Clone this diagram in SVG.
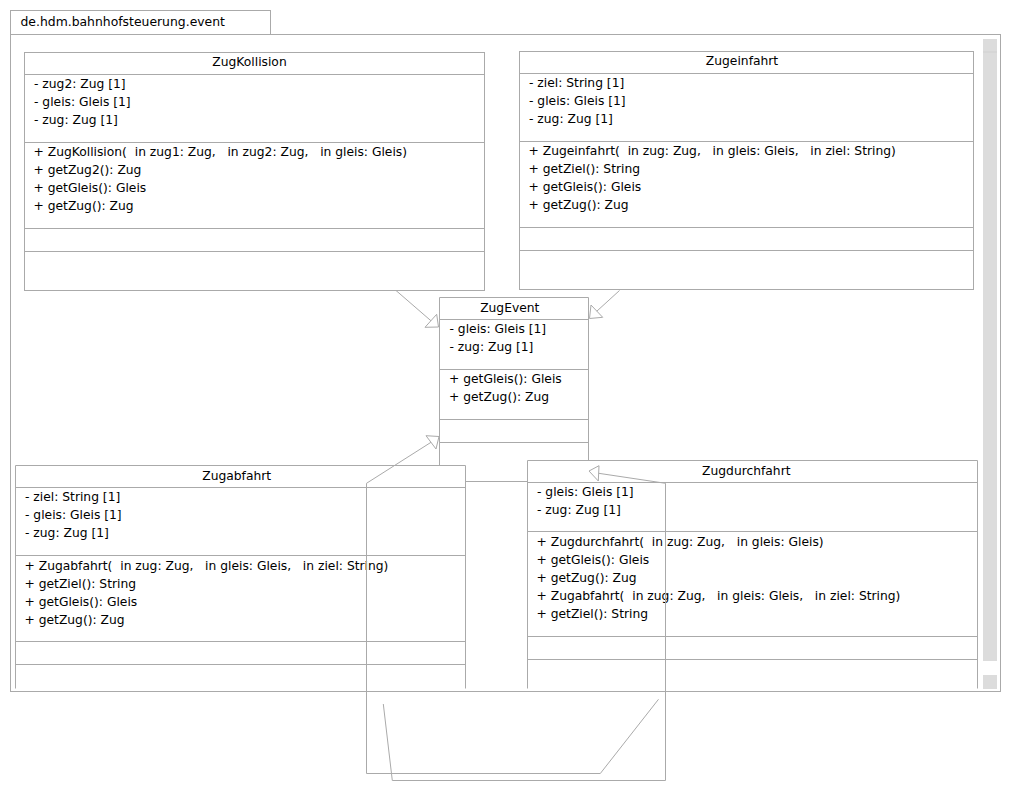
<svg xmlns="http://www.w3.org/2000/svg" width="1011" height="804" viewBox="0 0 1011 804">
<style>
.ln{fill:none;stroke:#aaaaaa;stroke-width:1}
.t{font-family:"DejaVu Sans","Liberation Sans",sans-serif;font-size:12.3px;fill:#000;white-space:pre}
.c{text-anchor:middle}
.sb{fill:#dcdcdc}
</style>
<rect x="0" y="0" width="1011" height="804" fill="#fff"/>
<g id="package">
<rect class="ln" x="10.5" y="10.5" width="260" height="24"/>
<rect class="ln" x="10.5" y="34.5" width="990" height="657"/>
<text class="t" x="20.5" y="26" style="font-size:12.4px">de.hdm.bahnhofsteuerung.event</text>
<rect class="sb" x="983" y="39" width="14" height="622"/>
<line x1="983" y1="52" x2="997" y2="52" stroke="#d0d0d0"/>
<rect class="sb" x="983" y="675" width="14" height="14"/>
</g>
<g id="ZugKollision">
<rect class="ln" x="24.5" y="52.5" width="460" height="238"/>
<path class="ln" d="M24.5 74.5H485M24.5 142.5H485M24.5 228.5H485M24.5 251.5H485"/>
<text class="t c" x="249.5" y="66">ZugKollision</text>
<text class="t" x="34" y="88">- zug2: Zug [1]</text>
<text class="t" x="34" y="106">- gleis: Gleis [1]</text>
<text class="t" x="34" y="124">- zug: Zug [1]</text>
<text class="t" x="33.5" y="156">+ ZugKollision(  in zug1: Zug,   in zug2: Zug,   in gleis: Gleis)</text>
<text class="t" x="33.5" y="174">+ getZug2(): Zug</text>
<text class="t" x="33.5" y="192">+ getGleis(): Gleis</text>
<text class="t" x="33.5" y="210">+ getZug(): Zug</text>
</g>
<g id="Zugeinfahrt">
<rect class="ln" x="519.5" y="51.5" width="454" height="238"/>
<path class="ln" d="M519.5 73.5H974M519.5 141.5H974M519.5 227.5H974M519.5 250.5H974"/>
<text class="t c" x="742" y="65">Zugeinfahrt</text>
<text class="t" x="529" y="87">- ziel: String [1]</text>
<text class="t" x="529" y="105">- gleis: Gleis [1]</text>
<text class="t" x="529" y="123">- zug: Zug [1]</text>
<text class="t" x="528.5" y="155">+ Zugeinfahrt(  in zug: Zug,   in gleis: Gleis,   in ziel: String)</text>
<text class="t" x="528.5" y="173">+ getZiel(): String</text>
<text class="t" x="528.5" y="191">+ getGleis(): Gleis</text>
<text class="t" x="528.5" y="209">+ getZug(): Zug</text>
</g>
<g id="ZugEvent">
<path class="ln" d="M439.5 465V297.5H588.5V460"/>
<path class="ln" d="M439.5 319.5H589M439.5 369.5H589M439.5 419.5H589M439.5 442.5H589"/>
<text class="t c" x="509.8" y="312">ZugEvent</text>
<text class="t" x="449.5" y="333">- gleis: Gleis [1]</text>
<text class="t" x="449.5" y="351">- zug: Zug [1]</text>
<text class="t" x="449" y="383">+ getGleis(): Gleis</text>
<text class="t" x="449" y="401">+ getZug(): Zug</text>
</g>
<g id="Zugabfahrt">
<path class="ln" d="M15.5 688.5V465.5H465.5V688.5"/>
<path class="ln" d="M15.5 487.5H466M15.5 555.5H466M15.5 641.5H466M15.5 664.5H466"/>
<text class="t c" x="236.7" y="480">Zugabfahrt</text>
<text class="t" x="25" y="501">- ziel: String [1]</text>
<text class="t" x="25" y="519">- gleis: Gleis [1]</text>
<text class="t" x="25" y="537">- zug: Zug [1]</text>
<text class="t" x="24.5" y="570">+ Zugabfahrt(  in zug: Zug,   in gleis: Gleis,   in ziel: String)</text>
<text class="t" x="24.5" y="588">+ getZiel(): String</text>
<text class="t" x="24.5" y="606">+ getGleis(): Gleis</text>
<text class="t" x="24.5" y="624">+ getZug(): Zug</text>
</g>
<g id="Zugdurchfahrt">
<path class="ln" d="M527.5 688.5V460.5H977.5V688.5"/>
<path class="ln" d="M465.5 481.5H527.5M527.5 482.5H978M527.5 531.5H978M527.5 636.5H978M527.5 659.5H978"/>
<text class="t c" x="746.3" y="474.5">Zugdurchfahrt</text>
<text class="t" x="537" y="496">- gleis: Gleis [1]</text>
<text class="t" x="537" y="514">- zug: Zug [1]</text>
<text class="t" x="536.5" y="546">+ Zugdurchfahrt(  in zug: Zug,   in gleis: Gleis)</text>
<text class="t" x="536.5" y="564">+ getGleis(): Gleis</text>
<text class="t" x="536.5" y="582">+ getZug(): Zug</text>
<text class="t" x="536.5" y="600">+ Zugabfahrt(  in zug: Zug,   in gleis: Gleis,   in ziel: String)</text>
<text class="t" x="536.5" y="618">+ getZiel(): String</text>
</g>
<g id="connectors">
<path class="ln" d="M396 290.5L431 320.8"/>
<polygon class="ln" points="438.5,327 436.7,314.3 425,327.3"/>
<path class="ln" d="M619.5 290.5L596.8 311.2"/>
<polygon class="ln" points="589.5,318.5 591,305 602.7,317.3"/>
<path class="ln" d="M658.5 699.3L600.3 773.5H366.5V483.3L431 442.3"/>
<polygon class="ln" points="439,436.5 426,435.7 436,449"/>
<path class="ln" d="M383.3 704L392.3 780.5H665.5V483.3L598.7 473.3"/>
<polygon class="ln" points="589,471 599,465.7 598.3,481"/>
</g>
</svg>
